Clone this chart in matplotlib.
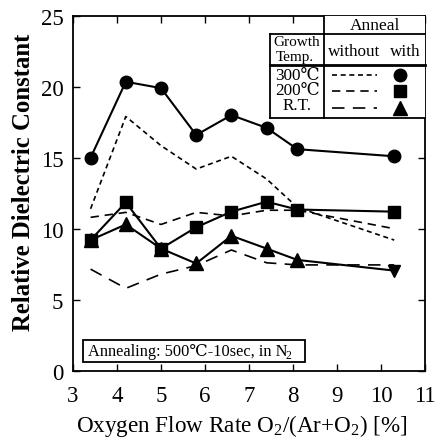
import matplotlib
matplotlib.use("Agg")
import matplotlib.pyplot as plt
from matplotlib.lines import Line2D
from matplotlib.patches import Rectangle

# ---------------- data ----------------
oxygen = [3.4, 4.2, 5.0, 5.8, 6.6, 7.4, 8.1, 10.3]

t300_with = [15.0, 20.35, 19.9, 16.6, 18.0, 17.1, 15.6, 15.1]
t300_without = [11.4, 17.9, 15.85, 14.2, 15.1, 13.5, 11.5, 9.2]

t200_with = [9.2, 11.85, 8.6, 10.1, 11.2, 11.9, 11.35, 11.2]
t200_without = [10.8, 11.15, 10.3, 11.15, 10.9, 11.3, 11.3, 10.0]

rt_with = [9.2, 10.3, 8.6, 7.55, 9.5, 8.6, 7.8, 7.05]
rt_without = [7.15, 5.8, 6.8, 7.4, 8.5, 7.6, 7.45, 7.45]

xticks = [3, 4, 5, 6, 7, 8, 9, 10, 11]
yticks = [0, 5, 10, 15, 20, 25]

growth_labels = ["300\u2103", "200\u2103", "R.T."]

SERIF = ["Liberation Serif", "DejaVu Serif"]
plt.rcParams["font.family"] = SERIF
plt.rcParams["mathtext.fontset"] = "custom"
plt.rcParams["mathtext.rm"] = "Liberation Serif"
plt.rcParams["mathtext.it"] = "Liberation Serif:italic"
plt.rcParams["mathtext.bf"] = "Liberation Serif:bold"

W, H = 441, 439
fig = plt.figure(figsize=(W / 100, H / 100), dpi=100)
x0, x1, ytop, ybot = 73, 425, 16.7, 371.7
ax = fig.add_axes([x0 / W, 1 - ybot / H, (x1 - x0) / W, (ybot - ytop) / H])

lw = 1.5
dash_short = (0, (3.0, 2.2))
dash_mid = (0, (5.0, 3.5))
dash_long = (0, (7.5, 5.0))

ax.plot(oxygen, t300_without, color="black", lw=1.2, linestyle=dash_short)
ax.plot(oxygen, t200_without, color="black", lw=1.2, linestyle=dash_mid)
ax.plot(oxygen, rt_without, color="black", lw=1.2, linestyle=dash_long)

ax.plot(oxygen, t300_with, color="black", lw=lw, marker="o", markersize=9)
ax.plot(oxygen, t200_with, color="black", lw=lw, marker="s", markersize=8)
ax.plot(oxygen[:-1], rt_with[:-1], color="black", lw=lw, marker="^", markersize=9.5)
ax.plot(oxygen[-2:], rt_with[-2:], color="black", lw=lw)
ax.plot(oxygen[-1:], rt_with[-1:], color="black", lw=0, marker="v", markersize=8)

ax.set_xlim(3, 11)
ax.set_ylim(0, 25)
ax.set_xticks(xticks)
ax.set_yticks(yticks)
ax.tick_params(direction="in", length=5, width=1, top=True, right=True,
               labelsize=16.5)
ax.tick_params(axis="x", pad=10)
ax.tick_params(axis="y", pad=7)
for s in ax.spines.values():
    s.set_linewidth(1.3)


def fx(px):
    return (px - x0) / (x1 - x0)


def fy(py):
    return (ybot - py) / (ybot - ytop)


ax.set_ylabel("Relative Dielectric Constant", fontsize=17.8, fontweight="bold")
ax.yaxis.set_label_coords(fx(35), fy(182.5))
ax.set_xlabel("Oxygen Flow Rate O$_\\mathrm{2}$/(Ar+O$_\\mathrm{2}$) [%]",
              fontsize=16.7)
ax.xaxis.set_label_coords(fx(242), fy(413))

# ---------------- legend table (pixel coordinates) ----------------
def hline(xa, xb, y, w=1.3):
    ax.add_line(Line2D([fx(xa), fx(xb)], [fy(y), fy(y)], color="black", lw=w,
                       transform=ax.transAxes, clip_on=False, zorder=5))


def vline(x, ya, yb, w=1.3):
    ax.add_line(Line2D([fx(x), fx(x)], [fy(ya), fy(yb)], color="black", lw=w,
                       transform=ax.transAxes, clip_on=False, zorder=5))


ax.add_patch(Rectangle((fx(270), fy(118.5)), fx(425) - fx(270), fy(35) - fy(118.5),
                       transform=ax.transAxes, facecolor="white", edgecolor="none",
                       zorder=4))
ax.add_patch(Rectangle((fx(324), fy(35)), fx(425) - fx(324), fy(16.7) - fy(35),
                       transform=ax.transAxes, facecolor="white", edgecolor="none",
                       zorder=4))
hline(324, 425, 35)
hline(270, 324, 35)
hline(270, 425, 66, w=2.0)
hline(270, 425, 118.5)
vline(270, 35, 118.5)
vline(324, 16.7, 118.5)


def ttext(px, py, s, size=12, ha="center"):
    ax.text(fx(px), fy(py), s, transform=ax.transAxes, ha=ha, va="center",
            fontsize=size, zorder=6, family=SERIF)


ttext(375, 25.5, "Anneal", 12.5)
ttext(354.5, 52.5, "without", 12.3)
ttext(405, 52.5, "with", 12.3)
ttext(297, 42, "Growth", 11)
ttext(295, 57.5, "Temp.", 11)
row_y = [76.5, 91, 106.5]
for lab, yy in zip(growth_labels, row_y):
    ttext(297.5, yy, lab, 12.3)

styles = [dash_short, dash_mid, dash_long]
markers = [("o", 9), ("s", 8), ("^", 9.5)]
for yy, st, (mk, ms) in zip([76, 92, 109], styles, markers):
    ax.add_line(Line2D([fx(332), fx(377)], [fy(yy), fy(yy)], color="black",
                       lw=1.2, linestyle=st, transform=ax.transAxes,
                       clip_on=False, zorder=6))
    ax.plot([fx(400)], [fy(yy)], marker=mk, markersize=ms, color="black",
            transform=ax.transAxes, clip_on=False, zorder=6)

# ---------------- annotation box ----------------
ax.add_patch(Rectangle((fx(83), fy(363)), fx(304.5) - fx(83), fy(341) - fy(363),
                       transform=ax.transAxes, facecolor="white",
                       edgecolor="black", lw=1.3, zorder=5))
main = ax.text(fx(87.5), fy(352.5), "Annealing: 500\u2103-10sec, in N",
               transform=ax.transAxes, ha="left", va="center", fontsize=11.8,
               zorder=6, family=SERIF)
renderer = fig.canvas.get_renderer()
bb = main.get_window_extent(renderer=renderer)
inv = ax.transAxes.inverted()
xr, _ = inv.transform((bb.x1, bb.y0))
ax.text(xr - 0.004, fy(356.5), "2", transform=ax.transAxes, ha="left",
        va="center", fontsize=8.5, zorder=6, family=SERIF)

fig.savefig("out.png", dpi=100)
